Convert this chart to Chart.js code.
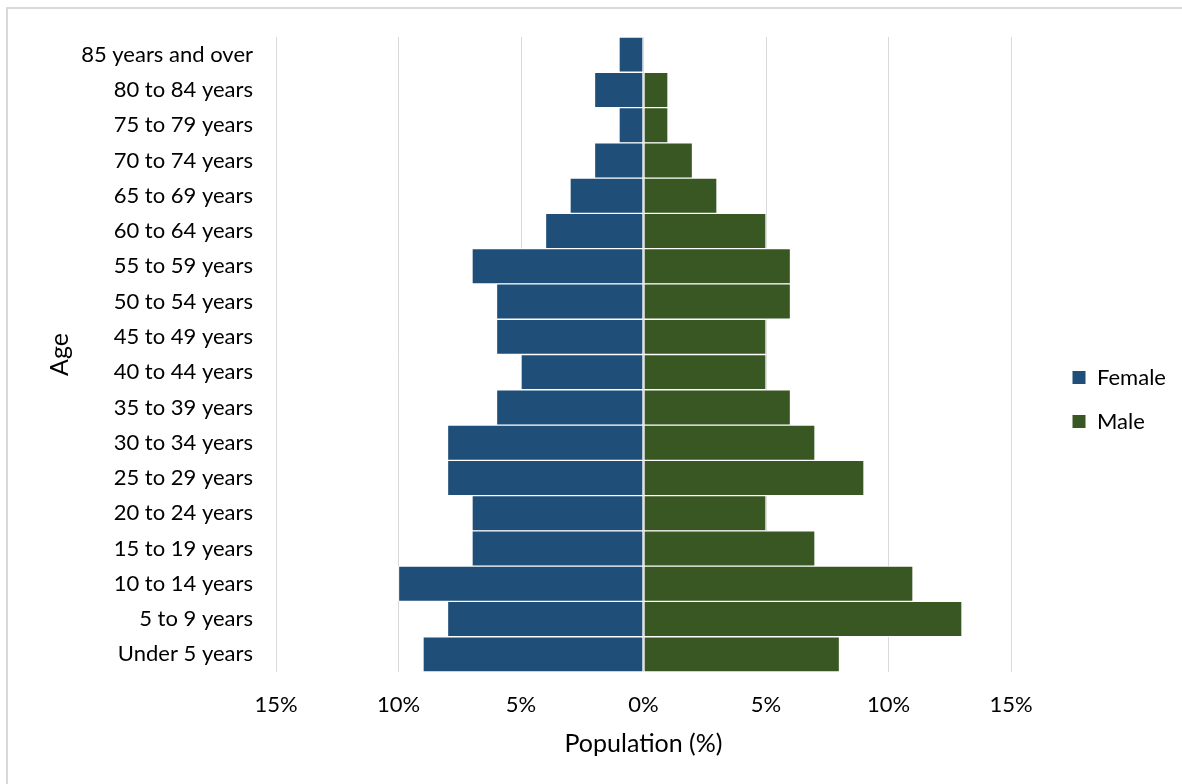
<!DOCTYPE html>
<html>
<head>
<meta charset="utf-8">
<title>Population pyramid</title>
<script src="https://cdn.jsdelivr.net/npm/chart.js@4.4.1/dist/chart.umd.min.js"></script>
<style>
    html, body { margin: 0; padding: 0; background: #fff; overflow: hidden; }
    #frame {
        position: absolute; left: 6px; top: 7px; right: -10px; bottom: -10px;
        border-left: 2px solid #d9d9d9; border-top: 2px solid #d9d9d9;
    }
    #wrap { position: absolute; left: 0; top: 0; width: 1182px; height: 784px; }
</style>
</head>
<body>
<div id="frame"></div>
<div id="wrap"><canvas id="pyramid"></canvas></div>
<script>
// =======================
// DATOS
// =======================
const ageGroups = [
    "85 years and over", "80 to 84 years", "75 to 79 years", "70 to 74 years",
    "65 to 69 years", "60 to 64 years", "55 to 59 years", "50 to 54 years",
    "45 to 49 years", "40 to 44 years", "35 to 39 years", "30 to 34 years",
    "25 to 29 years", "20 to 24 years", "15 to 19 years", "10 to 14 years",
    "5 to 9 years", "Under 5 years"
];
const femaleShare = [1, 2, 1, 2, 3, 4, 7, 6, 6, 5, 6, 8, 8, 7, 7, 10, 8, 9];
const maleShare = [0, 1, 1, 2, 3, 5, 6, 6, 5, 5, 6, 7, 9, 5, 7, 11, 13, 8];
const axisMin = -15;
const axisMax = 15;
const axisStep = 5;

const seriesColors = {
    "Female": "#1f4e79",
    "Male": "#385723"
};

Chart.defaults.font.family = "Lato, 'Noto Sans', sans-serif";
Chart.defaults.font.size = 22;
Chart.defaults.color = "#000";

// =======================
// LEYENDA (ancho y posición)
// =======================
const legendPlacement = {
    id: "legendPlacement",
    beforeInit(chart) {
        const origFit = chart.legend.fit;
        chart.legend.fit = function () {
            origFit.call(this);
            this.width = 171;
        };
    },
    afterLayout(chart) {
        chart.legend.left += 39;
        chart.legend.right += 39;
        chart.legend.top -= 11;
        chart.legend.bottom -= 11;
    }
};

const ctx = document.getElementById("pyramid").getContext("2d");

new Chart(ctx, {
    type: "bar",
    data: {
        labels: ageGroups,
        datasets: [
            {
                label: "Female",
                data: femaleShare.map(v => -v),
                backgroundColor: seriesColors["Female"],
                borderColor: "#fff",
                borderWidth: 1,
                borderSkipped: false,
                barPercentage: 1,
                categoryPercentage: 1
            },
            {
                label: "Male",
                data: maleShare,
                backgroundColor: seriesColors["Male"],
                borderColor: "#fff",
                borderWidth: 1,
                borderSkipped: false,
                barPercentage: 1,
                categoryPercentage: 1
            }
        ]
    },
    options: {
        indexAxis: "y",
        responsive: true,
        maintainAspectRatio: false,
        animation: false,
        layout: {
            padding: { top: 37, right: 0, bottom: 0, left: 0 }
        },
        plugins: {
            legend: {
                position: "right",
                labels: {
                    boxWidth: 14,
                    boxHeight: 14,
                    padding: 22,
                    font: { size: 22 }
                }
            },
            tooltip: {
                callbacks: {
                    label: (item) => `${item.dataset.label}: ${Math.abs(item.raw)}%`
                }
            }
        },
        scales: {
            x: {
                stacked: true,
                min: axisMin,
                max: axisMax,
                ticks: {
                    stepSize: axisStep,
                    padding: 20,
                    callback: (value) => Math.abs(value) + "%"
                },
                grid: {
                    color: "#d9d9d9",
                    lineWidth: 1,
                    drawTicks: false
                },
                border: { display: false },
                title: {
                    display: true,
                    text: "Population (%)",
                    font: { size: 25 },
                    padding: { top: 0, bottom: 25 }
                },
                afterFit(scale) {
                    scale.height = 112;
                }
            },
            y: {
                stacked: true,
                grid: { display: false, drawTicks: false },
                border: { display: false },
                ticks: { padding: 23 },
                title: {
                    display: true,
                    text: "Age",
                    font: { size: 25 },
                    padding: { top: 45, bottom: 0 }
                },
                afterFit(scale) {
                    scale.width = 276;
                }
            }
        }
    },
    plugins: [legendPlacement]
});
</script>
</body>
</html>
